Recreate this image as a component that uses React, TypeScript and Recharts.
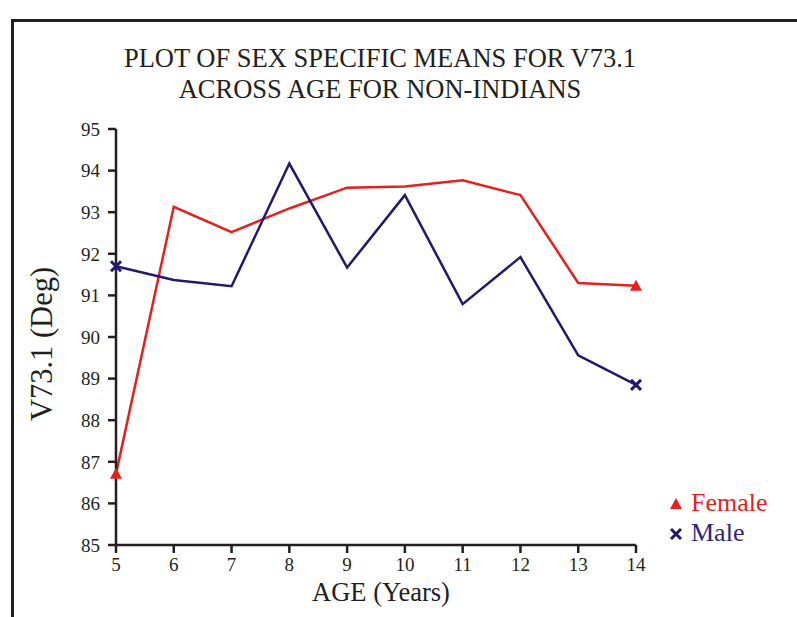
import React from 'react'
import { LineChart, Line, XAxis, YAxis } from 'recharts'

const ages = [5, 6, 7, 8, 9, 10, 11, 12, 13, 14]
const female = [86.71, 93.13, 92.52, 93.09, 93.59, 93.62, 93.77, 93.41, 91.3, 91.23]
const male = [91.7, 91.37, 91.22, 94.17, 91.67, 93.41, 90.79, 91.92, 89.56, 88.85]
const yTicks = [85, 86, 87, 88, 89, 90, 91, 92, 93, 94, 95]

const RED = '#e3211f'
const NAVY = '#25176b'
const AXIS = '#231f20'
const FONT = '"Liberation Serif", "Times New Roman", serif'

const data = ages.map((age, i) => ({ age, female: female[i], male: male[i] }))
const last = ages.length - 1

const TriangleDot = (props: any) => {
  const { cx, cy, index } = props
  if (index !== 0 && index !== last) return <g key={`f${index}`} />
  return (
    <path
      key={`f${index}`}
      d={`M${cx},${cy - 6} L${cx + 6},${cy + 5} L${cx - 6},${cy + 5} Z`}
      fill={RED}
    />
  )
}

const CrossDot = (props: any) => {
  const { cx, cy, index } = props
  if (index !== 0 && index !== last) return <g key={`m${index}`} />
  return (
    <path
      key={`m${index}`}
      d={`M${cx - 5},${cy - 5} L${cx + 5},${cy + 5} M${cx + 5},${cy - 5} L${cx - 5},${cy + 5}`}
      stroke={NAVY}
      strokeWidth={3}
    />
  )
}

export default function App() {
  return (
    <div
      style={{
        position: 'absolute',
        left: 0,
        top: 0,
        width: 797,
        height: 617,
        background: '#fff',
        fontFamily: FONT,
        color: AXIS,
      }}
    >
      <div style={{ position: 'absolute', left: 11, top: 19, width: 786, height: 3, background: AXIS }} />
      <div style={{ position: 'absolute', left: 11, top: 19, width: 3, height: 598, background: AXIS }} />
      <div
        style={{
          position: 'absolute',
          left: 0,
          top: 43,
          width: 760,
          textAlign: 'center',
          fontSize: 26.5,
          lineHeight: '31px',
        }}
      >
        PLOT OF SEX SPECIFIC MEANS FOR V73.1
        <br />
        ACROSS AGE FOR NON-INDIANS
      </div>
      <div
        style={{
          position: 'absolute',
          left: 42,
          top: 344,
          transform: 'translate(-50%, -50%) rotate(-90deg)',
          fontSize: 30.5,
          whiteSpace: 'nowrap',
        }}
      >
        V73.1 (Deg)
      </div>
      <div
        style={{
          position: 'absolute',
          left: 381,
          top: 592,
          transform: 'translate(-50%, -50%)',
          fontSize: 26.5,
          lineHeight: '26px',
          whiteSpace: 'nowrap',
        }}
      >
        AGE (Years)
      </div>
      <div style={{ position: 'absolute', left: 669, top: 488, fontSize: 26, lineHeight: '30px' }}>
        <div style={{ color: RED }}>
          <svg width={14} height={14} style={{ marginRight: 8 }}>
            <path d="M7,1 L13,12 L1,12 Z" fill={RED} />
          </svg>
          Female
        </div>
        <div style={{ color: '#2b2580' }}>
          <svg width={14} height={14} style={{ marginRight: 8 }}>
            <path d="M2,2 L12,12 M12,2 L2,12" stroke={NAVY} strokeWidth={3} />
          </svg>
          Male
        </div>
      </div>
      <LineChart
        width={797}
        height={617}
        data={data}
        margin={{ top: 129, right: 161, bottom: 42, left: 56 }}
        style={{ fontFamily: FONT }}
      >
        <XAxis
          dataKey="age"
          type="number"
          domain={[5, 14]}
          ticks={ages}
          height={30}
          stroke={AXIS}
          strokeWidth={2.5}
          tickSize={8}
          tick={{ fill: AXIS, fontSize: 19, fontFamily: FONT }}
          tickMargin={5}
        />
        <YAxis
          type="number"
          domain={[85, 95]}
          ticks={yTicks}
          width={60}
          stroke={AXIS}
          strokeWidth={2.5}
          tickSize={8}
          tick={{ fill: AXIS, fontSize: 19, fontFamily: FONT }}
          tickMargin={8}
        />
        <Line
          dataKey="female"
          name="Female"
          stroke={RED}
          strokeWidth={2.5}
          dot={<TriangleDot />}
          activeDot={false}
          isAnimationActive={false}
        />
        <Line
          dataKey="male"
          name="Male"
          stroke={NAVY}
          strokeWidth={2.5}
          dot={<CrossDot />}
          activeDot={false}
          isAnimationActive={false}
        />
      </LineChart>
    </div>
  )
}
